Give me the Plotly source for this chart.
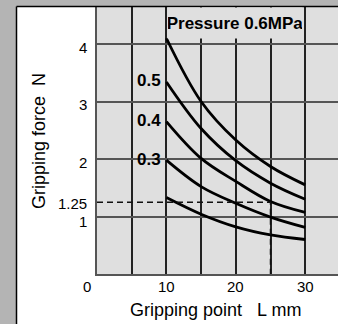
import plotly.graph_objects as go

# ---- data ----
grip_point = [10, 15, 20, 25, 30]
force_06 = [4.10, 3.00, 2.33, 1.87, 1.55]
force_05 = [3.34, 2.53, 1.97, 1.58, 1.30]
force_04 = [2.65, 2.01, 1.61, 1.26, 1.07]
force_03 = [1.98, 1.52, 1.23, 0.99, 0.81]
force_02 = [1.33, 1.04, 0.82, 0.68, 0.60]
curve_labels = ["", "0.3", "0.4", "0.5", ""]
x_ticks = [10, 20, 30]
x_tick_labels = ["10", "20", "30"]
y_ticks = [1, 2, 3, 4]
y_tick_labels = ["1", "2", "3", "4"]
example_L = 25
example_force = 1.25

W, H = 338, 324
ML, MR, MT, MB = 97, 0, 7, 50
PW, PH = W - ML - MR, H - MT - MB

def px(x):
    return (x - ML) / PW

def py(y):
    return (H - MB - y) / PH

FONT = "Liberation Sans, Arial, sans-serif"
PLOT_BG = "#dfdfdf"
OUTER = "#b4b4b4"

fig = go.Figure()
series = [force_02, force_03, force_04, force_05, force_06]
for s in series:
    fig.add_trace(go.Scatter(x=grip_point, y=s, mode="lines",
                             line=dict(color="black", width=2.8, shape="spline", smoothing=1.0),
                             hoverinfo="skip", showlegend=False))

# dashed reading line
fig.add_trace(go.Scatter(x=[0, example_L, example_L], y=[example_force, example_force, 0],
                         mode="lines", line=dict(color="#111", width=1.5, dash="6px,4px"),
                         hoverinfo="skip", showlegend=False))

ann = []
for s, lab in zip(series, curve_labels):
    if lab:
        ann.append(dict(x=grip_point[0], y=s[0], xref="x", yref="y", text="<b>%s</b>" % lab,
                        showarrow=False, xanchor="right", yanchor="middle", xshift=-3, yshift=1,
                        font=dict(family=FONT, size=17, color="black")))
for v, t in zip(x_ticks, x_tick_labels):
    ann.append(dict(x=v, y=0, xref="x", yref="y", text=t, showarrow=False,
                    xanchor="center", yanchor="middle", yshift=-12,
                    font=dict(family=FONT, size=15, color="black")))
ann.append(dict(x=0, y=0, xref="x", yref="y", text="0", showarrow=False,
                xanchor="center", yanchor="middle", xshift=-10, yshift=-12,
                font=dict(family=FONT, size=15, color="black")))
for v, t in zip(y_ticks, y_tick_labels):
    ann.append(dict(x=0, y=v, xref="x", yref="y", text=t, showarrow=False,
                    xanchor="right", yanchor="middle", xshift=-8,
                    yshift=-5 if v == 1 else -3,
                    font=dict(family=FONT, size=15, color="black")))
ann.append(dict(x=0, y=example_force, xref="x", yref="y", text="1.25", showarrow=False,
                xanchor="right", yanchor="middle", xshift=-8, yshift=-1,
                font=dict(family=FONT, size=15, color="black")))
ann.append(dict(x=px(235), y=1, xref="paper", yref="paper", text="<b>Pressure 0.6MPa</b>",
                showarrow=False, xanchor="center", yanchor="top", width=134, height=30,
                bgcolor=PLOT_BG, borderpad=0,
                font=dict(family=FONT, size=17, color="black")))
ann.append(dict(x=px(215), y=py(310), xref="paper", yref="paper",
                text="Gripping point\u00a0\u00a0\u00a0L mm", showarrow=False,
                xanchor="center", yanchor="middle",
                font=dict(family=FONT, size=18, color="black")))
ann.append(dict(x=px(39), y=py(141), xref="paper", yref="paper",
                text="Gripping force\u00a0\u00a0N", showarrow=False, textangle=-90,
                xanchor="center", yanchor="middle",
                font=dict(family=FONT, size=18, color="black")))

shapes = [
    dict(type="rect", xref="paper", yref="paper", x0=px(0), x1=px(16.5), y0=py(H), y1=py(0),
         fillcolor=OUTER, line=dict(width=0), layer="below"),
    dict(type="rect", xref="paper", yref="paper", x0=px(0), x1=px(W), y0=py(6), y1=py(0),
         fillcolor=OUTER, line=dict(width=0), layer="below"),
    dict(type="line", xref="paper", yref="paper", x0=px(16.5), x1=px(W), y0=py(6.5), y1=py(6.5),
         line=dict(color="black", width=1.5)),
    dict(type="line", xref="paper", yref="paper", x0=px(16.5), x1=px(16.5), y0=py(6.5), y1=py(H),
         line=dict(color="black", width=1.5)),
]

fig.update_layout(
    width=W, height=H, autosize=False,
    margin=dict(l=ML, r=MR, t=MT, b=MB, pad=0),
    paper_bgcolor="white", plot_bgcolor=PLOT_BG,
    annotations=ann, shapes=shapes, showlegend=False,
)
fig.update_xaxes(range=[0, PW / 6.94], tickvals=[5, 10, 15, 20, 25, 30], showticklabels=False,
                 showgrid=True, gridcolor="#222", gridwidth=1.5, zeroline=False,
                 showline=True, linecolor="#555", linewidth=2, ticks="", fixedrange=True)
fig.update_yaxes(range=[0, PH / 57.5], tickvals=[1, 2, 3, 4], showticklabels=False,
                 showgrid=True, gridcolor="#555", gridwidth=1.8, zeroline=False,
                 showline=True, linecolor="#555", linewidth=2, ticks="", fixedrange=True)

fig.write_html("out.html", config={"displayModeBar": False})
